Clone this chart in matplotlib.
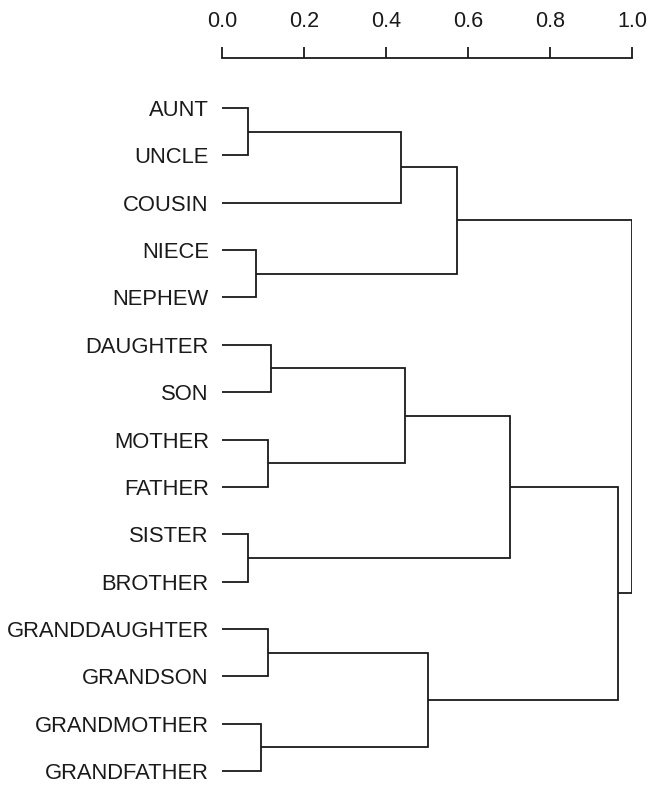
import matplotlib
matplotlib.use("Agg")
import matplotlib.pyplot as plt

labels = ["AUNT", "UNCLE", "COUSIN", "NIECE", "NEPHEW",
          "DAUGHTER", "SON", "MOTHER", "FATHER", "SISTER", "BROTHER",
          "GRANDDAUGHTER", "GRANDSON", "GRANDMOTHER", "GRANDFATHER"]

# merges: pairs of node ids; leaves are 0..14, new clusters get ids 15, 16, ...
merges = [
    (0, 1), (15, 2), (3, 4), (16, 17),
    (5, 6), (7, 8), (19, 20), (9, 10), (21, 22),
    (11, 12), (13, 14), (24, 25), (23, 26), (18, 27),
]
merge_height = [0.064, 0.437, 0.083, 0.574, 0.120, 0.111, 0.447, 0.064,
                0.703, 0.113, 0.094, 0.503, 0.967, 1.000]

tick_values = [0, 0.2, 0.4, 0.6, 0.8, 1.0]
tick_labels = ["0.0", "0.2", "0.4", "0.6", "0.8", "1.0"]

plt.rcParams['font.family'] = ['Liberation Sans', 'DejaVu Sans']

fig = plt.figure(figsize=(6.5, 7.87), dpi=100)
ax = fig.add_axes([222/650, 0.0, 410/650, 1 - 58/787])

n = len(labels)
ypos = {i: float(i) for i in range(n)}
xpos = {i: 0.0 for i in range(n)}
lc = '#1a1a1a'
lw = 1.3
for k, ((a, b), h) in enumerate(zip(merges, merge_height)):
    node = n + k
    ya, yb = ypos[a], ypos[b]
    xa, xb = xpos[a], xpos[b]
    ax.plot([xa, h, h, xb], [ya, ya, yb, yb], color=lc, lw=lw,
            solid_joinstyle='miter', solid_capstyle='butt')
    ypos[node] = (ya + yb) / 2
    xpos[node] = h

ax.set_xlim(0, 1)
ax.set_ylim((787 - 108) / 47.36, (58 - 108) / 47.36)
ax.xaxis.tick_top()
ax.set_xticks(tick_values)
ax.set_xticklabels(tick_labels)
ax.tick_params(axis='x', direction='out', length=8, width=1.3, pad=11,
               labelsize=15.5, color=lc, labelcolor='#1a1a1a')
ax.set_yticks(range(n))
ax.set_yticklabels(labels)
ax.tick_params(axis='y', length=0, pad=9.5, labelsize=15.8, labelcolor='#1a1a1a')
for s in ['left', 'right', 'bottom']:
    ax.spines[s].set_visible(False)
ax.spines['top'].set_linewidth(1.3)
ax.spines['top'].set_color(lc)
ax.patch.set_alpha(0)

fig.savefig("out.png", dpi=100)
